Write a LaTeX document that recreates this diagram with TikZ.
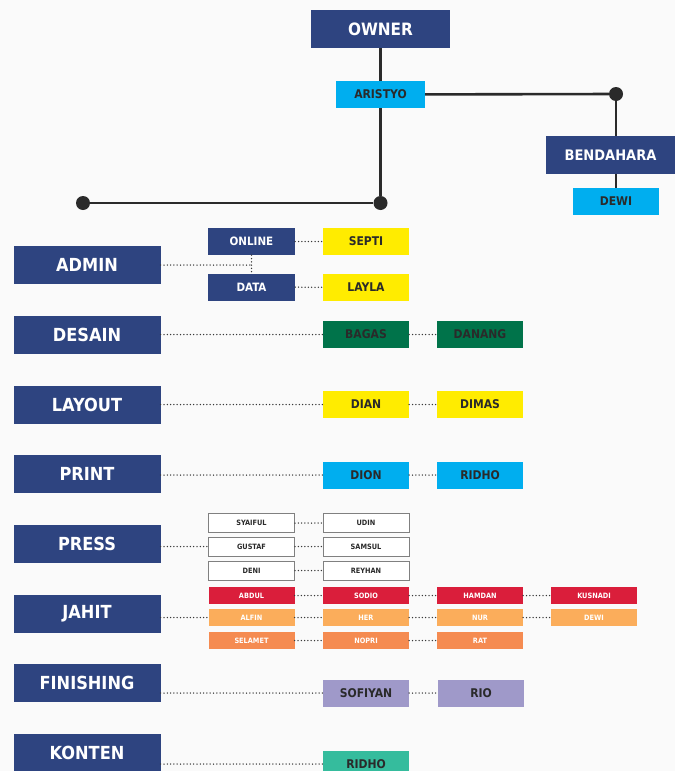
\documentclass[tikz,border=0pt]{standalone}
\usepackage{fontspec}
\setmainfont{DejaVu Sans Condensed}
\usepackage{xcolor}
\usepackage{tikz}
\usetikzlibrary{positioning, backgrounds}

\definecolor{navy}{HTML}{2E4480}
\definecolor{sky}{HTML}{00AEEF}
\definecolor{lemon}{HTML}{FFEC00}
\definecolor{leaf}{HTML}{00734A}
\definecolor{crimson}{HTML}{DA1E3B}
\definecolor{peach}{HTML}{FBAD5B}
\definecolor{coral}{HTML}{F58B51}
\definecolor{lilac}{HTML}{9F99C9}
\definecolor{mint}{HTML}{35BC9D}
\definecolor{ink}{HTML}{2A2A2A}

\begin{document}
\begin{tikzpicture}[
    x=1pt, y=-1pt,
    head/.style={fill=navy, text=white, minimum width=147pt, minimum height=38pt,
        inner sep=0pt, font=\bfseries\fontsize{18}{20}\selectfont},
    unit/.style={fill=navy, text=white, minimum width=87pt, minimum height=27pt,
        inner sep=0pt, font=\bfseries\fontsize{11.5}{13}\selectfont},
    person/.style={text=ink, minimum width=86pt, minimum height=27pt,
        inner sep=0pt, font=\bfseries\fontsize{12}{14}\selectfont},
    crew/.style={draw=gray, line width=1pt, fill=white, text=ink, minimum width=86pt,
        minimum height=19pt, inner sep=0pt, font=\bfseries\fontsize{7.3}{8}\selectfont},
    sewer/.style={text=white, minimum width=86pt, minimum height=17pt,
        inner sep=0pt, font=\bfseries\fontsize{7.3}{8}\selectfont},
    spine/.style={draw=ink, line width=2.6pt},
    link/.style={draw=gray!45!black, line width=1.5pt, line cap=round,
        dash pattern=on 0pt off 3.3pt},
    joint/.style={circle, fill=ink, inner sep=0pt, minimum size=14pt}
]
\clip (0,0) rectangle (675,771);
\fill[white!98!black] (0,0) rectangle (675,771);

% top of the chart
\node[head, minimum width=139pt, font=\bfseries\fontsize{17}{19}\selectfont] (owner) at (380.5, 29) {OWNER};
\node[person, fill=sky, minimum width=89pt] (aristyo) at (380.5, 94.5) {ARISTYO};
\node[head, minimum width=129pt, font=\bfseries\fontsize{14.5}{16}\selectfont] (bendahara) at (610.5, 155) {BENDAHARA};
\node[person, fill=sky] (dewi) at (616, 201.5) {DEWI};

\node[joint] (dotR) at (616, 94) {};
\node[joint] (dotM) at (380.5, 203) {};
\node[joint] (dotL) at (83, 203) {};
\coordinate (bottom) at (83, 780);

\draw[spine] (owner) -- (aristyo);
\draw[spine] (aristyo) -- (dotM);
\draw[spine] (aristyo) -- (dotR);
\draw[spine] (dotR) -- (dotR |- bendahara.north);
\draw[spine] (dotR |- bendahara.south) -- (dewi);
\draw[spine] (dotM) -- (dotL);

% divisions
\node[head] (admin)     at (87, 265)   {ADMIN};
\node[head] (desain)    at (87, 335)   {DESAIN};
\node[head] (layout)    at (87, 404.5) {LAYOUT};
\node[head] (print)     at (87, 474)   {PRINT};
\node[head] (press)     at (87, 544)   {PRESS};
\node[head] (jahit)     at (87, 613.5) {JAHIT};
\node[head] (finishing) at (87, 683)   {FINISHING};
\node[head] (konten)    at (87, 753)   {KONTEN};

\begin{pgfonlayer}{background}
\draw[spine] (dotL) -- (bottom);
\end{pgfonlayer}

% admin
\node[unit] (online) at (251.5, 241.5) {ONLINE};
\node[unit] (data)   at (251.5, 287)   {DATA};
\node[person, fill=lemon] (septi) at (366, 241.5) {SEPTI};
\node[person, fill=lemon] (layla) at (366, 287.5) {LAYLA};
\draw[link] (admin.east) -- (admin.east -| online.south);
\draw[link] (online) -- (data);
\draw[link] (online) -- (septi);
\draw[link] (data) -- (layla);

% desain, layout, print
\node[person, fill=leaf] (bagas)  at (366, 334.5) {BAGAS};
\node[person, fill=leaf] (danang) at (480, 334.5) {DANANG};
\node[person, fill=lemon] (dian)  at (366, 404.5) {DIAN};
\node[person, fill=lemon] (dimas) at (480, 404.5) {DIMAS};
\node[person, fill=sky] (dion)    at (366, 475)   {DION};
\node[person, fill=sky] (ridho)   at (480, 475)   {RIDHO};

% press
\node[crew] (syaiful) at (251.5, 523)   {SYAIFUL};
\node[crew] (udin)    at (366, 523)     {UDIN};
\node[crew] (gustaf)  at (251.5, 546.5) {GUSTAF};
\node[crew] (samsul)  at (366, 546.5)   {SAMSUL};
\node[crew] (deni)    at (251.5, 570.5) {DENI};
\node[crew] (reyhan)  at (366, 570.5)   {REYHAN};

% jahit
\node[sewer, fill=crimson] (abdul)   at (251.5, 595.5) {ABDUL};
\node[sewer, fill=crimson] (sodio)   at (366, 595.5)   {SODIO};
\node[sewer, fill=crimson] (hamdan)  at (480, 595.5)   {HAMDAN};
\node[sewer, fill=crimson] (kusnadi) at (594, 595.5)   {KUSNADI};
\node[sewer, fill=peach] (alfin)     at (251.5, 617.5) {ALFIN};
\node[sewer, fill=peach] (her)       at (366, 617.5)   {HER};
\node[sewer, fill=peach] (nur)       at (480, 617.5)   {NUR};
\node[sewer, fill=peach] (dewij)     at (594, 617.5)   {DEWI};
\node[sewer, fill=coral] (selamet)   at (251.5, 640.5) {SELAMET};
\node[sewer, fill=coral] (nopri)     at (366, 640.5)   {NOPRI};
\node[sewer, fill=coral] (rat)       at (480, 640.5)   {RAT};

% finishing, konten
\node[person, fill=lilac] (sofiyan) at (366, 693) {SOFIYAN};
\node[person, fill=lilac] (rio)     at (481, 693) {RIO};
\node[person, fill=mint] (ridhok)   at (366, 764) {RIDHO};

\foreach \a/\b in {desain/bagas, layout/dian, print/dion, press/gustaf,
                   jahit/alfin, finishing/sofiyan, konten/ridhok} {
    \draw[link] (\a.east |- \b.west) -- (\b.west);
}
\foreach \a/\b in {bagas/danang, dian/dimas, dion/ridho, syaiful/udin,
                   gustaf/samsul, deni/reyhan, abdul/sodio, sodio/hamdan,
                   hamdan/kusnadi, alfin/her, her/nur, nur/dewij,
                   selamet/nopri, nopri/rat, sofiyan/rio} {
    \draw[link] (\a) -- (\b);
}
\end{tikzpicture}
\end{document}
